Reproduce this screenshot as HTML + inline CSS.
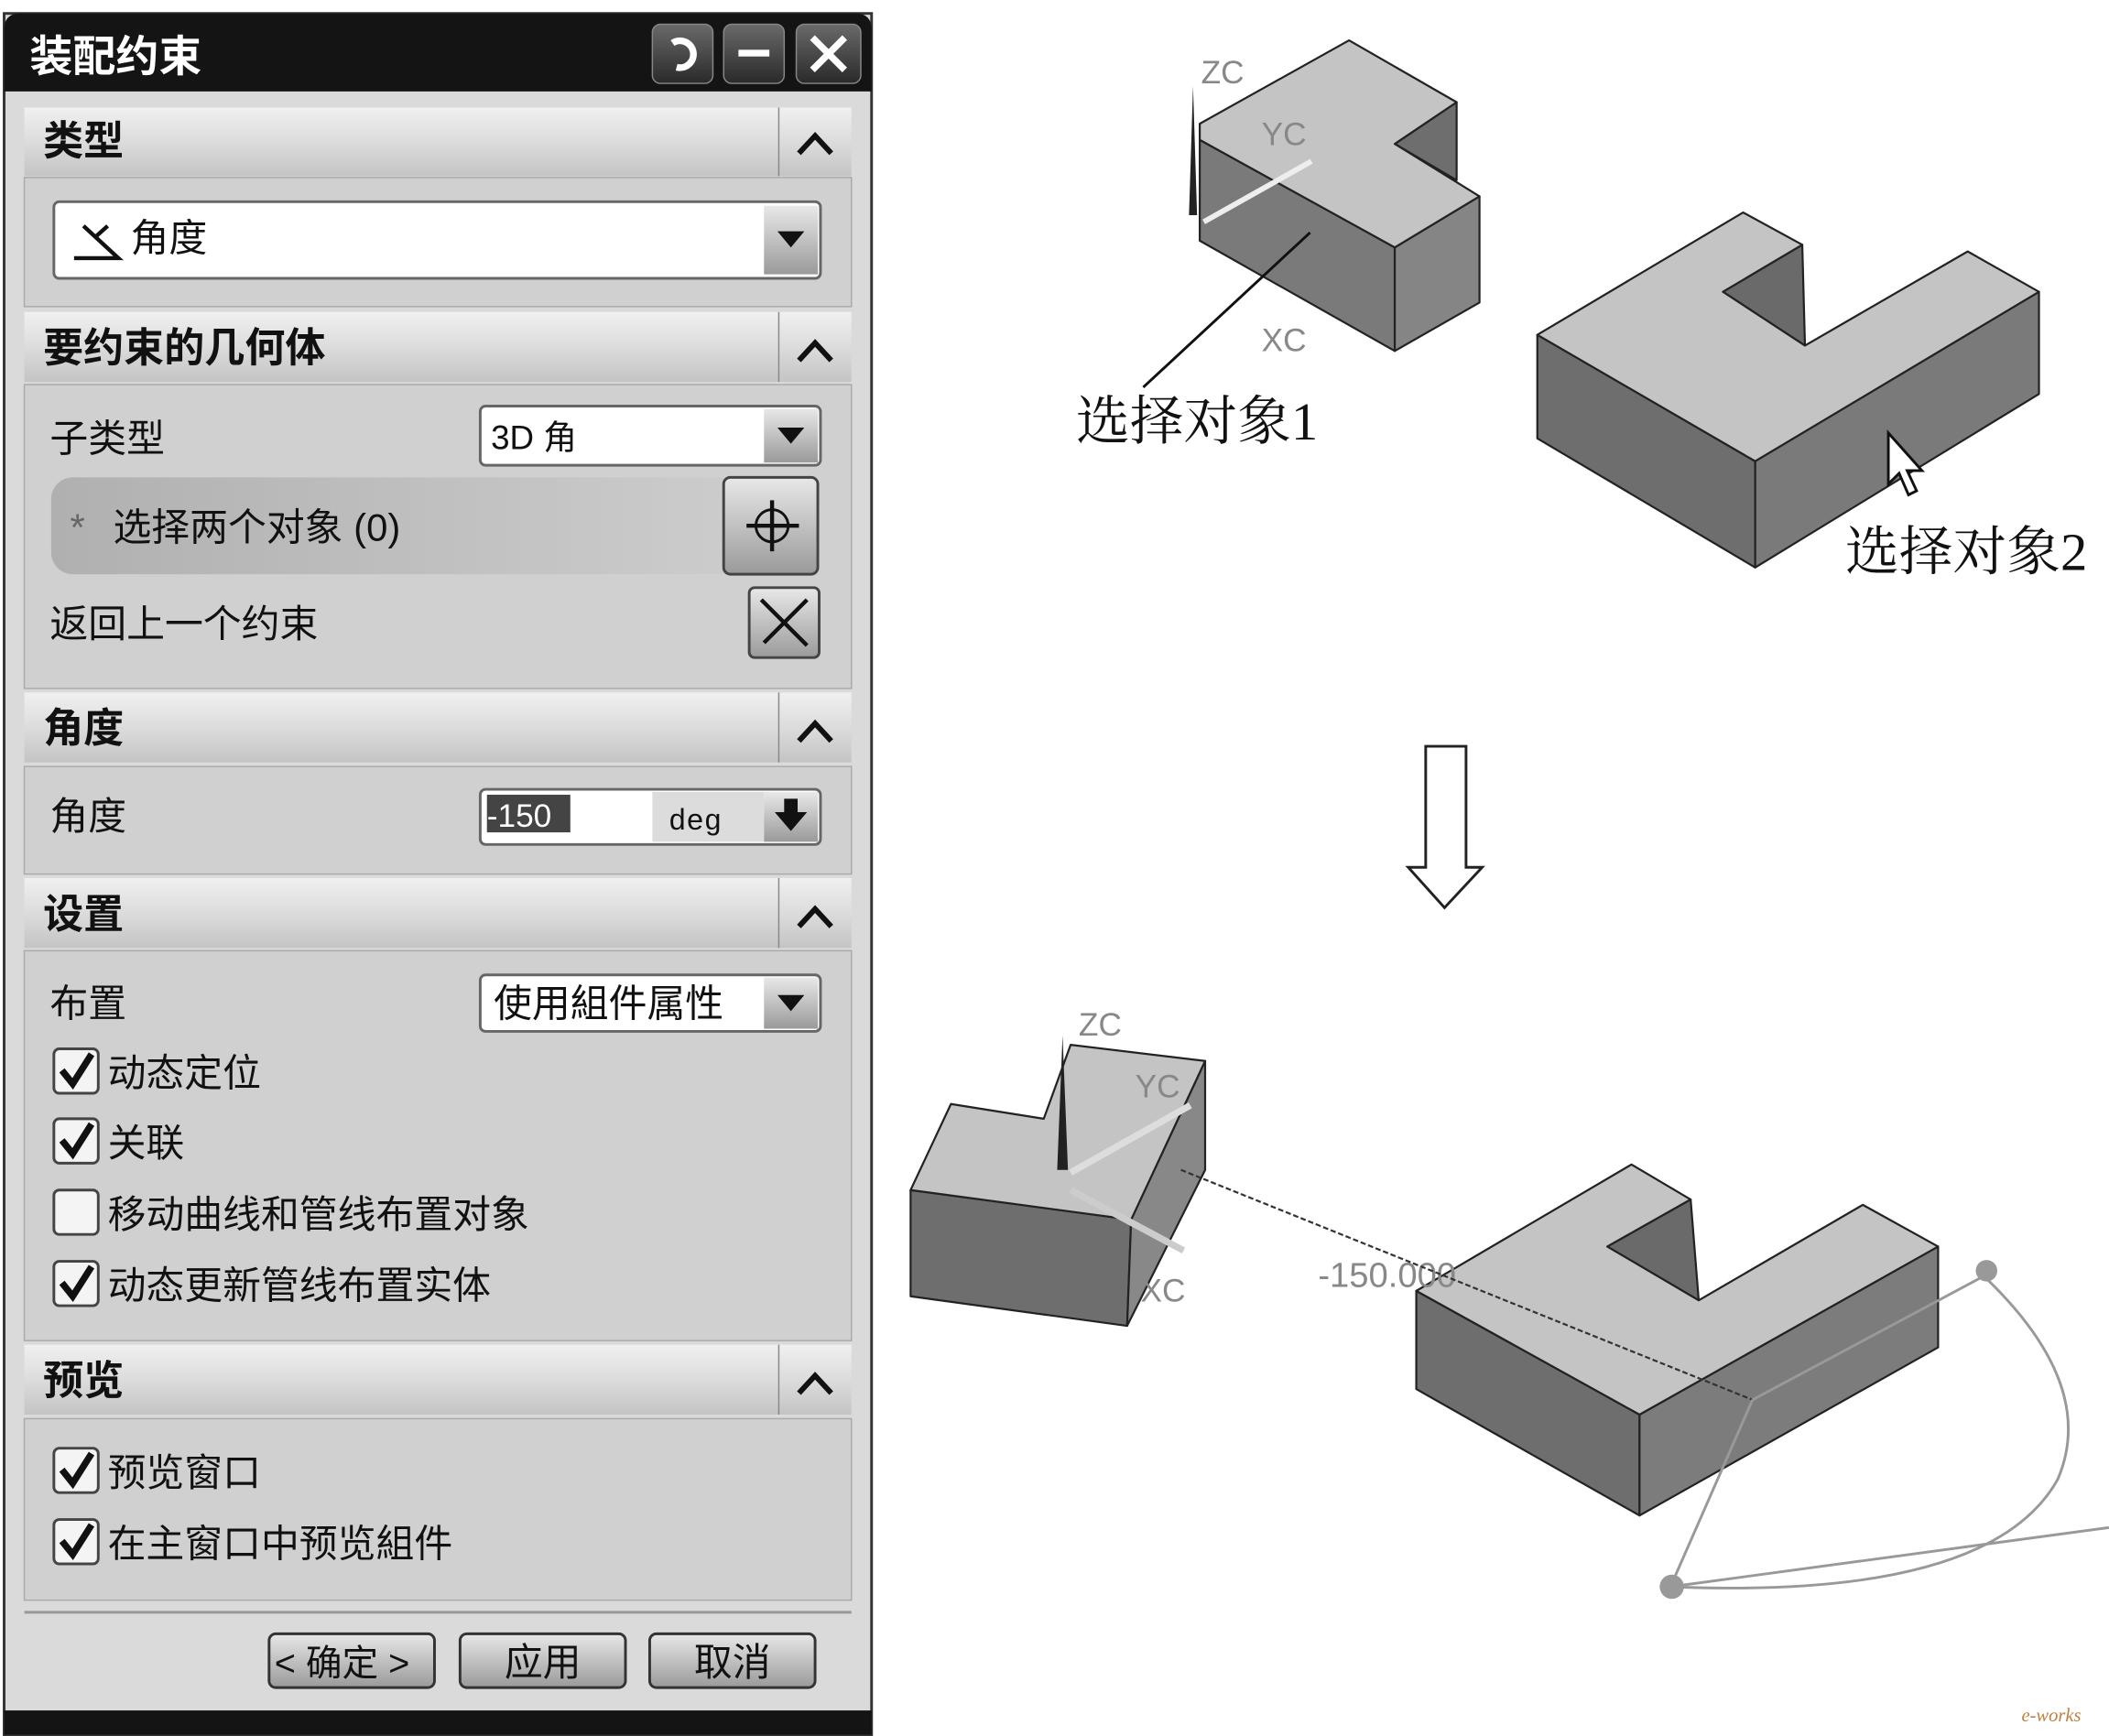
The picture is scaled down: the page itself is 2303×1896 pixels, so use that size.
<!DOCTYPE html>
<html><head><meta charset="utf-8"><style>
html,body{margin:0;padding:0;background:#fff;width:2303px;height:1896px;overflow:hidden}
svg{display:block}
text{font-family:"Liberation Sans","Noto Sans CJK SC",sans-serif}
.h{font-size:30px;font-weight:bold;fill:#111}
.t{font-size:28.5px;fill:#111}
.s{font-family:"Liberation Serif","Noto Serif CJK SC",serif;font-size:40px;fill:#111}
.ax{font-size:24px;fill:#888}
.ck{fill:none;stroke:#111;stroke-width:5}
</style></head><body>
<svg width="2303" height="1896" viewBox="0 0 1568 1291" xmlns="http://www.w3.org/2000/svg">
<defs>
<linearGradient id="hg" x1="0" y1="0" x2="0" y2="1"><stop offset="0" stop-color="#f0f0f0"/><stop offset="0.5" stop-color="#dcdcdc"/><stop offset="1" stop-color="#c4c4c4"/></linearGradient>
<linearGradient id="bg" x1="0" y1="0" x2="0" y2="1"><stop offset="0" stop-color="#6a6a6a"/><stop offset="1" stop-color="#2a2a2a"/></linearGradient>
<linearGradient id="dg" x1="0" y1="0" x2="0" y2="1"><stop offset="0" stop-color="#e8e8e8"/><stop offset="1" stop-color="#9a9a9a"/></linearGradient>
<linearGradient id="band" x1="0" y1="0" x2="1" y2="0"><stop offset="0" stop-color="#b0b0b0"/><stop offset="1" stop-color="#cfcfcf"/></linearGradient>
</defs>
<rect x="3" y="10" width="645" height="1280" fill="#dadada" stroke="#333" stroke-width="2"/>
<path d="M3 68 V22 Q3 10 15 10 H636 Q648 10 648 22 V68 Z" fill="#141414"/>
<text x="22" y="53" style="font-size:32px;font-weight:bold;fill:#fff">装配约束</text>
<rect x="485" y="18" width="45" height="44" rx="6" fill="url(#bg)" stroke="#888"/>
<rect x="538" y="18" width="45" height="44" rx="6" fill="url(#bg)" stroke="#888"/>
<rect x="592" y="18" width="48" height="44" rx="6" fill="url(#bg)" stroke="#888"/>
<path d="M500 32 A10 10 0 1 1 503 50" fill="none" stroke="#fff" stroke-width="5"/>
<rect x="549" y="37" width="23" height="5" fill="#fff"/>
<path d="M604 28 L628 52 M628 28 L604 52" stroke="#fff" stroke-width="5"/>

<g>
<rect x="18" y="80" width="615" height="51" fill="url(#hg)"/><line x1="579" y1="80" x2="579" y2="131" stroke="#888"/>
<text class="h" x="32" y="115">类型</text><path d="M594 114 L606 101 L618 114" fill="none" stroke="#111" stroke-width="4"/>
<rect x="18" y="132" width="615" height="96" fill="#d0d0d0" stroke="#aaa"/>
<rect x="40" y="150" width="570" height="57" rx="4" fill="#fff" stroke="#666" stroke-width="2"/>
<rect x="568" y="153" width="40" height="51" fill="url(#dg)"/><path d="M578 172 L598 172 L588 184 Z" fill="#111"/>
<path d="M55 192 L88 192 L62 168" fill="none" stroke="#111" stroke-width="3"/><path d="M70 177 L80 168" stroke="#111" stroke-width="3"/>
<text class="t" x="97" y="187">角度</text>

<rect x="18" y="232" width="615" height="52" fill="url(#hg)"/><line x1="579" y1="232" x2="579" y2="284" stroke="#888"/>
<text class="h" x="32" y="269">要约束的几何体</text><path d="M594 268 L606 255 L618 268" fill="none" stroke="#111" stroke-width="4"/>
<rect x="18" y="286" width="615" height="226" fill="#d0d0d0" stroke="#aaa"/>
<text class="t" x="37" y="336">子类型</text>
<rect x="357" y="302" width="253" height="44" rx="4" fill="#fff" stroke="#666" stroke-width="2"/>
<rect x="568" y="304" width="40" height="40" fill="url(#dg)"/><path d="M578 318 L598 318 L588 330 Z" fill="#111"/>
<text class="t" x="365" y="334" style="font-size:25px">3D 角</text>
<rect x="38" y="355" width="562" height="72" rx="16" fill="url(#band)"/>
<text class="t" x="52" y="402" style="fill:#666">*</text>
<text class="t" x="84" y="402">选择两个对象 (0)</text>
<rect x="538" y="355" width="70" height="72" rx="5" fill="url(#dg)" stroke="#444" stroke-width="2"/>
<circle cx="574" cy="391" r="12" fill="none" stroke="#111" stroke-width="2"/><path d="M574 372 V410 M555 391 H594" stroke="#111" stroke-width="3"/>
<text class="t" x="37" y="474">返回上一个约束</text>
<rect x="557" y="437" width="52" height="52" rx="4" fill="url(#dg)" stroke="#444" stroke-width="2"/>
<path d="M566 446 L600 480 M600 446 L568 478" stroke="#111" stroke-width="3"/>

<rect x="18" y="515" width="615" height="52" fill="url(#hg)"/><line x1="579" y1="515" x2="579" y2="567" stroke="#888"/>
<text class="h" x="32" y="552">角度</text><path d="M594 551 L606 538 L618 551" fill="none" stroke="#111" stroke-width="4"/>
<rect x="18" y="570" width="615" height="80" fill="#d0d0d0" stroke="#aaa"/>
<text class="t" x="37" y="617">角度</text>
<rect x="357" y="587" width="253" height="41" rx="4" fill="#fff" stroke="#666" stroke-width="2"/>
<rect x="485" y="589" width="83" height="37" fill="#dcdcdc"/>
<rect x="362" y="591" width="62" height="28" fill="#444"/>
<text x="362" y="615" style="font-size:24px;fill:#fff">-150</text>
<text x="497" y="617" style="font-family:'Liberation Mono',monospace;font-size:22px;fill:#111">deg</text>
<rect x="568" y="589" width="40" height="37" fill="url(#dg)"/><path d="M583 594 H593 V604 H600 L588 618 L576 604 H583 Z" fill="#111"/>

<rect x="18" y="653" width="615" height="52" fill="url(#hg)"/><line x1="579" y1="653" x2="579" y2="705" stroke="#888"/>
<text class="h" x="32" y="690">设置</text><path d="M594 689 L606 676 L618 689" fill="none" stroke="#111" stroke-width="4"/>
<rect x="18" y="707" width="615" height="290" fill="#d0d0d0" stroke="#aaa"/>
<text class="t" x="37" y="756">布置</text>
<rect x="357" y="725" width="253" height="42" rx="4" fill="#fff" stroke="#666" stroke-width="2"/>
<rect x="568" y="727" width="40" height="38" fill="url(#dg)"/><path d="M578 740 L598 740 L588 752 Z" fill="#111"/>
<text class="t" x="367" y="756">使用組件属性</text>
<rect x="40" y="780" width="33" height="33" rx="4" fill="#f4f4f4" stroke="#444" stroke-width="2"/><path class="ck" d="M46 796 L54 806 L68 784"/>
<text class="t" x="80" y="808">动态定位</text>
<rect x="40" y="832" width="33" height="33" rx="4" fill="#f4f4f4" stroke="#444" stroke-width="2"/><path class="ck" d="M46 848 L54 858 L68 836"/>
<text class="t" x="80" y="860">关联</text>
<rect x="40" y="885" width="33" height="33" rx="4" fill="#f4f4f4" stroke="#444" stroke-width="2"/>
<text class="t" x="80" y="913">移动曲线和管线布置对象</text>
<rect x="40" y="938" width="33" height="33" rx="4" fill="#f4f4f4" stroke="#444" stroke-width="2"/><path class="ck" d="M46 954 L54 964 L68 942"/>
<text class="t" x="80" y="966">动态更新管线布置实体</text>

<rect x="18" y="1000" width="615" height="52" fill="url(#hg)"/><line x1="579" y1="1000" x2="579" y2="1052" stroke="#888"/>
<text class="h" x="32" y="1037">预览</text><path d="M594 1036 L606 1023 L618 1036" fill="none" stroke="#111" stroke-width="4"/>
<rect x="18" y="1055" width="615" height="135" fill="#d0d0d0" stroke="#aaa"/>
<rect x="40" y="1077" width="33" height="33" rx="4" fill="#f4f4f4" stroke="#444" stroke-width="2"/><path class="ck" d="M46 1093 L54 1103 L68 1081"/>
<text class="t" x="80" y="1105">预览窗口</text>
<rect x="40" y="1130" width="33" height="33" rx="4" fill="#f4f4f4" stroke="#444" stroke-width="2"/><path class="ck" d="M46 1146 L54 1156 L68 1134"/>
<text class="t" x="80" y="1158">在主窗口中预览組件</text>

<line x1="18" y1="1199" x2="633" y2="1199" stroke="#999" stroke-width="2"/>
<rect x="200" y="1215" width="123" height="40" rx="5" fill="url(#dg)" stroke="#333" stroke-width="2"/>
<text class="t" x="204" y="1246" style="font-size:27px">&lt; 确定 &gt;</text>
<rect x="342" y="1215" width="123" height="40" rx="5" fill="url(#dg)" stroke="#333" stroke-width="2"/>
<text class="t" x="375" y="1246">应用</text>
<rect x="483" y="1215" width="123" height="40" rx="5" fill="url(#dg)" stroke="#333" stroke-width="2"/>
<text class="t" x="516" y="1246">取消</text>
<rect x="3" y="1272" width="645" height="18" fill="#141414"/>
</g>

<g stroke="#222" stroke-width="1.5" stroke-linejoin="round">
<polygon points="892,104 1037,184 1037,261 892,179" fill="#7a7a7a"/>
<polygon points="1037,184 1100,146 1100,225 1037,261" fill="#858585"/>
<polygon points="1037,107 1083,76 1083,134" fill="#6e6e6e"/>
<polygon points="892,92 1003,30 1083,76 1037,107 1100,146 1037,184 892,104" fill="#c4c4c4"/>
</g>
<path d="M884 160 L887 64 L890 160 Z" fill="#222"/>
<path d="M895 165 L975 120" stroke="#eee" stroke-width="4"/>
<line x1="974" y1="173" x2="850" y2="288" stroke="#111" stroke-width="2"/>
<text class="ax" x="893" y="62">ZC</text><text class="ax" x="938" y="108">YC</text><text class="ax" x="938" y="261">XC</text>
<text class="s" x="800" y="327">选择对象1</text>

<g stroke="#222" stroke-width="1.5" stroke-linejoin="round">
<polygon points="1143,249 1305,343 1305,422 1143,326" fill="#6e6e6e"/>
<polygon points="1305,343 1516,217 1516,293 1305,422" fill="#7a7a7a"/>
<polygon points="1281,217 1340,182 1342,257" fill="#6a6a6a"/>
<polygon points="1143,249 1296,158 1340,182 1281,217 1342,257 1463,187 1516,217 1305,343" fill="#c4c4c4"/>
</g>
<path d="M1404 322 L1404 360 L1412 352 L1419 368 L1425 365 L1418 350 L1429 350 Z" fill="#fff" stroke="#111" stroke-width="2"/>
<text class="s" x="1372" y="424">选择对象2</text>

<path d="M1060 555 H1090 V645 H1102 L1074 675 L1047 645 H1060 Z" fill="#fff" stroke="#222" stroke-width="2"/>

<g stroke="#222" stroke-width="1.5" stroke-linejoin="round">
<polygon points="677,885 841,907 838,986 677,964" fill="#6e6e6e"/>
<polygon points="841,907 896,789 896,870 838,986" fill="#888"/>
<polygon points="677,885 707,821 776,832 796,777 896,789 841,907" fill="#c4c4c4"/>
</g>
<path d="M786 870 L790 770 L794 870 Z" fill="#222"/>
<path d="M796 872 L885 822" stroke="#ddd" stroke-width="5"/>
<path d="M796 885 L880 930" stroke="#ccc" stroke-width="5"/>
<text class="ax" x="802" y="770">ZC</text><text class="ax" x="844" y="816">YC</text><text class="ax" x="848" y="968">XC</text>

<g stroke="#222" stroke-width="1.5" stroke-linejoin="round">
<polygon points="1053,960 1219,1052 1219,1127 1053,1033" fill="#6e6e6e"/>
<polygon points="1219,1052 1441,927 1441,1002 1219,1127" fill="#7c7c7c"/>
<polygon points="1195,927 1257,892 1263,967" fill="#6a6a6a"/>
<polygon points="1053,960 1213,866 1257,892 1195,927 1263,967 1385,896 1441,927 1219,1052" fill="#c4c4c4"/>
</g>
<text class="ax" x="980" y="957" style="font-size:26px">-150.000</text>
<line x1="878" y1="870" x2="1303" y2="1041" stroke="#333" stroke-width="1.5" stroke-dasharray="4,2"/>
<g fill="none" stroke="#999" stroke-width="2">
<path d="M1303 1041 L1475 949"/>
<path d="M1303 1041 L1242 1180"/>
<path d="M1242 1180 L1568 1136"/>
<path d="M1475 949 Q1560 1030 1530 1100 Q1480 1190 1242 1180"/>
</g>
<circle cx="1477" cy="945" r="8" fill="#999"/>
<circle cx="1243" cy="1180" r="9" fill="#999"/>
<text x="1503" y="1280" style="font-size:14px;font-style:italic;fill:#c08040;font-family:'Liberation Serif',serif">e-works</text>
</svg>
</body></html>
